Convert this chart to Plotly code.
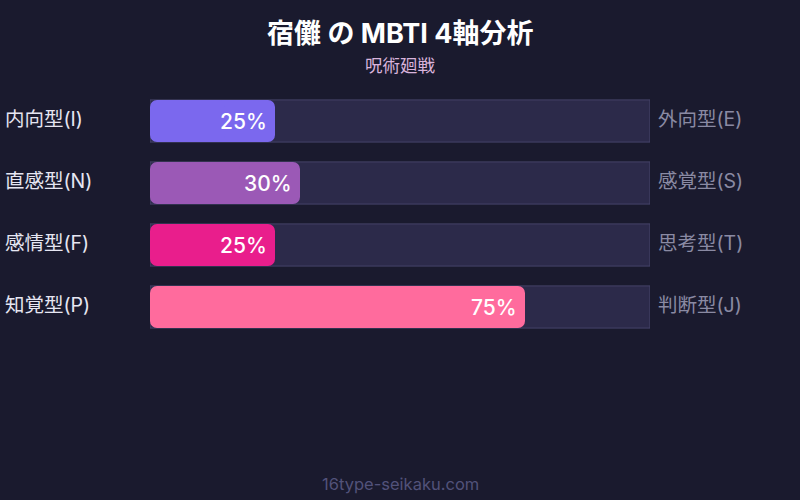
import plotly.graph_objects as go

left_labels = ["内向型(I)", "直感型(N)", "感情型(F)", "知覚型(P)"]
right_labels = ["外向型(E)", "感覚型(S)", "思考型(T)", "判断型(J)"]
values = [25, 30, 25, 75]
colors = ["#7b68ee", "#9b59b6", "#e91e8c", "#ff6b9d"]
track_max = [100, 100, 100, 100]
title = "宿儺 の MBTI 4軸分析"
subtitle = "呪術廻戦"
footer = "16type-seikaku.com"

FONT = "Inter, 'Noto Sans CJK JP', sans-serif"
BG = "#1a1a2e"
rows = list(range(len(values)))

fig = go.Figure()
fig.add_trace(go.Bar(
    y=rows, x=track_max, orientation="h", width=0.68,
    marker=dict(color="#2c2a4a", line=dict(color="#46446a", width=1)),
    hoverinfo="skip", showlegend=False, yaxis="y",
))
# value bar drawn as two halves so that both ends get rounded corners
split_r = [v * 0.4 for v in values]   # right half starts here
split_l = [v * 0.6 for v in values]   # left half starts here (overlap avoids seam)
fig.add_trace(go.Bar(
    y=rows, x=[v - s for v, s in zip(values, split_r)], base=split_r,
    orientation="h", width=0.68,
    marker=dict(color=colors, line=dict(width=0), cornerradius=7),
    hoverinfo="skip", showlegend=False, yaxis="y2",
))
fig.add_trace(go.Bar(
    y=rows, x=[-s for s in split_l], base=split_l,
    orientation="h", width=0.68,
    marker=dict(color=colors, line=dict(width=0), cornerradius=7),
    hoverinfo="skip", showlegend=False, yaxis="y3",
))

for i, v in enumerate(values):
    fig.add_annotation(x=v, y=i, xref="x", yref="y", text=f"{v}%",
                       xanchor="right", yanchor="middle", xshift=-6, showarrow=False,
                       font=dict(family=FONT, size=21, color="#ffffff", weight=500))
    fig.add_annotation(x=0, y=i, xref="paper", yref="y", text=left_labels[i],
                       xanchor="left", yanchor="middle", xshift=-147, yshift=2, showarrow=False,
                       font=dict(family=FONT, size=19.5, color="#e6e6f2"))
    fig.add_annotation(x=1, y=i, xref="paper", yref="y", text=right_labels[i],
                       xanchor="left", yanchor="middle", xshift=6, yshift=2, showarrow=False,
                       font=dict(family=FONT, size=19.5, color="#8a8aa3"))

fig.add_annotation(x=0.5, y=33, xref="paper", yref="paper", text=f"<b>{title}</b>",
                   showarrow=False, yanchor="middle", xanchor="center",
                   font=dict(family=FONT, size=27, color="#ffffff"))
fig.add_annotation(x=0.5, y=65, xref="paper", yref="paper", text=subtitle,
                   showarrow=False, yanchor="middle", xanchor="center",
                   font=dict(family=FONT, size=17.5, color="#d9b3dc"))
fig.add_annotation(x=0.5, y=484, xref="paper", yref="paper", text=footer,
                   showarrow=False, yanchor="middle", xanchor="center",
                   font=dict(family=FONT, size=16.5, color="#52527a"))

# convert pixel-y title/footer positions into paper coords
H, T, B = 500, 90, 162
ph = H - T - B
for a in fig.layout.annotations[-3:]:
    a.y = (H - B - a.y) / ph

yax = dict(range=[3.5, -0.5], visible=False, fixedrange=True)
fig.update_layout(
    width=800, height=500,
    paper_bgcolor=BG, plot_bgcolor=BG,
    margin=dict(l=150, r=150, t=T, b=B),
    xaxis=dict(range=[0, 100], visible=False, fixedrange=True),
    yaxis=yax,
    yaxis2=dict(yax, overlaying="y"),
    yaxis3=dict(yax, overlaying="y"),
    font=dict(family=FONT),
)
fig.write_html("out.html", config={"displayModeBar": False},
               post_script="document.body.style.margin='0';document.body.style.background='#1a1a2e';")
